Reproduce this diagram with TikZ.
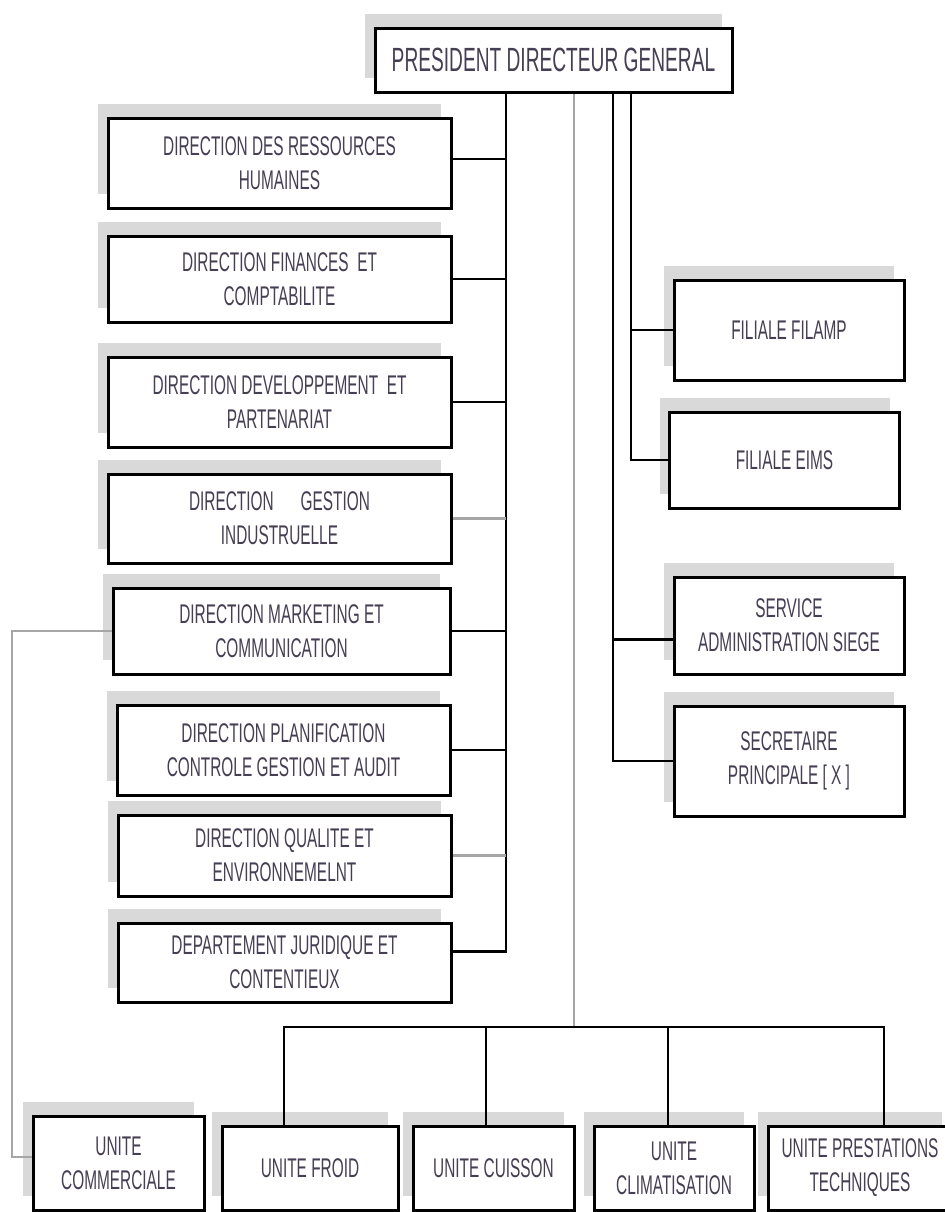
\documentclass[tikz,border=0pt]{standalone}
\usepackage{fontspec}
\setmainfont{Liberation Sans}[FakeStretch=0.57]
\usetikzlibrary{shadows}
\definecolor{textgris}{RGB}{70,62,82}
\definecolor{ombre}{RGB}{217,217,217}
\tikzset{
	boite/.style={draw, line width=1.5pt, fill=white, align=center, inner sep=0pt,
		text=textgris, font=\fontsize{13.5}{17}\selectfont,
		drop shadow={shadow xshift=-5pt, shadow yshift=7pt, fill=ombre, opacity=1}},
	direction/.style={boite, minimum width=171.5pt},
	filiale/.style={boite, minimum width=115pt},
	unite/.style={boite, minimum height=42pt},
	lien/.style={line width=1.2pt, color=black},
	lienclair/.style={line width=1.2pt, color=gray!70}
}
\begin{document}
\begin{tikzpicture}[x=0.5pt, y=-0.5pt]
	\useasboundingbox (0,0) rectangle (945,1212);

	\node[boite, minimum width=178.5pt, minimum height=32pt, font=\fontsize{16.8}{20}\selectfont] (pdg) at (553.5,60) {PRESIDENT DIRECTEUR GENERAL};

	% directions
	\node[direction, minimum height=45pt] (drh) at (279.5,163) {DIRECTION DES RESSOURCES\\HUMAINES};
	\node[direction, minimum height=43pt] (dfc) at (279.5,279) {DIRECTION FINANCES\ \ ET\\COMPTABILITE};
	\node[direction, minimum height=45pt] (ddp) at (279.5,402) {DIRECTION DEVELOPPEMENT\ \ ET\\PARTENARIAT};
	\node[direction, minimum height=44.5pt] (dgi) at (279.5,518.5) {DIRECTION\quad GESTION\\INDUSTRUELLE};
	\node[direction, minimum width=168.5pt, minimum height=43pt] (dmc) at (281.5,631) {DIRECTION MARKETING ET\\COMMUNICATION};
	\node[direction, minimum width=166.5pt, minimum height=45pt] (dpc) at (283.5,750) {DIRECTION PLANIFICATION\\CONTROLE GESTION ET AUDIT};
	\node[direction, minimum width=166.5pt, minimum height=40.5pt] (dqe) at (284.5,855.5) {DIRECTION QUALITE ET\\ENVIRONNEMELNT};
	\node[direction, minimum width=166.5pt, minimum height=39.5pt] (djc) at (284.5,962.5) {DEPARTEMENT JURIDIQUE ET\\CONTENTIEUX};

	% filiales et services
	\node[filiale, minimum height=50pt] (filamp) at (789,330) {FILIALE FILAMP};
	\node[filiale, minimum height=48pt] (eims) at (784.5,460) {FILIALE EIMS};
	\node[filiale, minimum height=48.5pt] (sas) at (789,625.5) {SERVICE\\ADMINISTRATION SIEGE};
	\node[filiale, minimum height=55pt] (sec) at (789,761) {SECRETAIRE\\PRINCIPALE [ X ]};

	% unites
	\node[unite, minimum width=85.5pt, minimum height=47pt] (uc) at (118.5,1163) {UNITE\\COMMERCIALE};
	\node[unite, minimum width=88pt] (uf) at (310,1168) {UNITE FROID};
	\node[unite, minimum width=80.5pt] (ucu) at (493.5,1168) {UNITE CUISSON};
	\node[unite, minimum width=80pt] (ucl) at (674,1168) {UNITE\\CLIMATISATION};
	\node[unite, minimum width=92pt] (upt) at (860,1168) {UNITE PRESTATIONS\\TECHNIQUES};

	\coordinate (axeG) at (506,0);
	\coordinate (axeS) at (613,0);
	\coordinate (axeF) at (631,0);
	\coordinate (gauche) at (12,0);
	\coordinate (bus) at (574,1027);

	% liaisons
	\draw[lien] (pdg.south -| axeG) -- ([yshift=5.5pt]djc.east -| axeG) -- ([yshift=5.5pt]djc.east);
	\draw[lien] ([yshift=2pt]drh.east) -- ([yshift=2pt]drh.east -| axeG);
	\draw[lien] (dfc.east) -- (dfc.east -| axeG);
	\draw[lien] (ddp.east) -- (ddp.east -| axeG);
	\draw[lienclair] (dgi.east) -- (dgi.east -| axeG);
	\draw[lien] (dmc.east) -- (dmc.east -| axeG);
	\draw[lien] (dpc.east) -- (dpc.east -| axeG);
	\draw[lienclair] (dqe.east) -- (dqe.east -| axeG);

	\draw[lienclair] (dmc.west) -| ([yshift=3pt]uc.west -| gauche) -- ([yshift=3pt]uc.west);

	\draw[lien] (pdg.south -| axeF) -- (eims.west -| axeF) -- (eims.west);
	\draw[lien] (filamp.west -| axeF) -- (filamp.west);
	\draw[lien] (pdg.south -| axeS) -- (sec.west -| axeS) -- (sec.west);
	\draw[lien] ([yshift=-7pt]sas.west) -- ([yshift=-7pt]sas.west -| axeS);

	\draw[lienclair] (pdg.south -| bus) -- (bus);
	\draw[lien] ([xshift=-13pt]uf.north) |- (bus) -| ([xshift=12pt]upt.north);
	\draw[lien] ([xshift=-3.75pt]ucu.north) -- ([xshift=-3.75pt]ucu.north |- bus);
	\draw[lien] ([xshift=-3pt]ucl.north) -- ([xshift=-3pt]ucl.north |- bus);
\end{tikzpicture}
\end{document}
